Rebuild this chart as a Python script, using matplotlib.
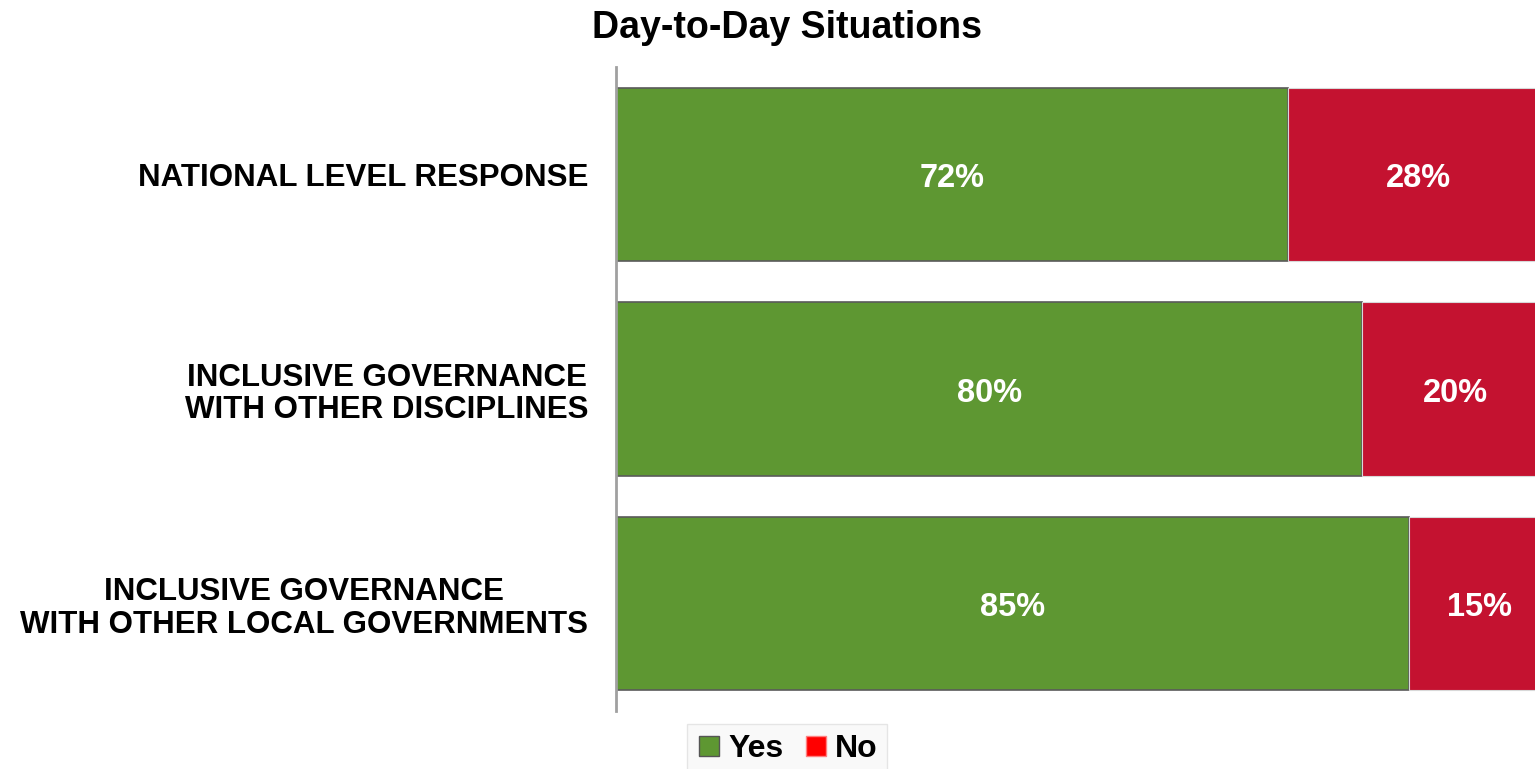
import matplotlib.pyplot as plt
import matplotlib as mpl
from matplotlib.lines import Line2D

mpl.rcParams.update({
    'font.family': ['Liberation Sans', 'DejaVu Sans'],
    'font.weight': 'bold',
})

categories = ["NATIONAL LEVEL RESPONSE",
              "INCLUSIVE GOVERNANCE\nWITH OTHER DISCIPLINES",
              "INCLUSIVE GOVERNANCE\nWITH OTHER LOCAL GOVERNMENTS"]
yes_vals = [72, 80, 85]
no_vals = [28, 20, 15]

GREEN = '#5E9732'
RED = '#C41230'

fig = plt.figure(figsize=(15.35, 7.69), dpi=100)
# axes runs slightly past the right edge, as in the source image
ax = fig.add_axes([616 / 1535, 1 - 711 / 769, 933 / 1535, 644 / 769])

ypos = list(range(len(categories)))
h = 0.808
ax.barh(ypos, yes_vals, height=h, color=GREEN, edgecolor='#5a5a5a', linewidth=1.2)
ax.barh(ypos, no_vals, left=yes_vals, height=h, color=RED, edgecolor='#d8d8d8', linewidth=0.8)

for y, a, b in zip(ypos, yes_vals, no_vals):
    ax.text(a / 2, y + 0.02, f'{a}%', ha='center', va='center', color='white',
            fontsize=23.5, fontweight='bold')
    ax.text(a + b / 2, y + 0.02, f'{b}%', ha='center', va='center', color='white',
            fontsize=23.5, fontweight='bold')

ax.set_xlim(0, 100)
ax.set_ylim(len(categories) - 0.5, -0.5)
ax.set_yticks(ypos)
ax.set_yticklabels(categories, fontsize=22.5, fontweight='bold', linespacing=1.12,
                   multialignment='center')
ax.tick_params(axis='y', length=0, pad=20)
ax.set_xticks([])
for s in ['top', 'right', 'bottom']:
    ax.spines[s].set_visible(False)
ax.spines['left'].set_color('#a0a0a0')
ax.spines['left'].set_linewidth(2)

fig.text(787 / 1535, 1 - 28 / 769, 'Day-to-Day Situations', ha='center', va='center',
         fontsize=27, fontweight='bold')

handles = [Line2D([0], [0], marker='s', ls='', mfc=GREEN, mec='#555555', mew=1, ms=14, label='Yes'),
           Line2D([0], [0], marker='s', ls='', mfc='#FF0000', mec='#ff8080', mew=1, ms=14, label='No')]
leg = fig.legend(handles=handles, loc='center', bbox_to_anchor=(787 / 1535, 1 - 749 / 769),
                 ncol=2, fontsize=23, frameon=True, handletextpad=0.2, columnspacing=0.6,
                 borderpad=0.3, handlelength=0.8, fancybox=False)
leg.get_frame().set_edgecolor('#e0e0e0')
leg.get_frame().set_facecolor('#f8f8f8')
for t in leg.get_texts():
    t.set_fontweight('bold')

fig.savefig('out.png', dpi=100)
